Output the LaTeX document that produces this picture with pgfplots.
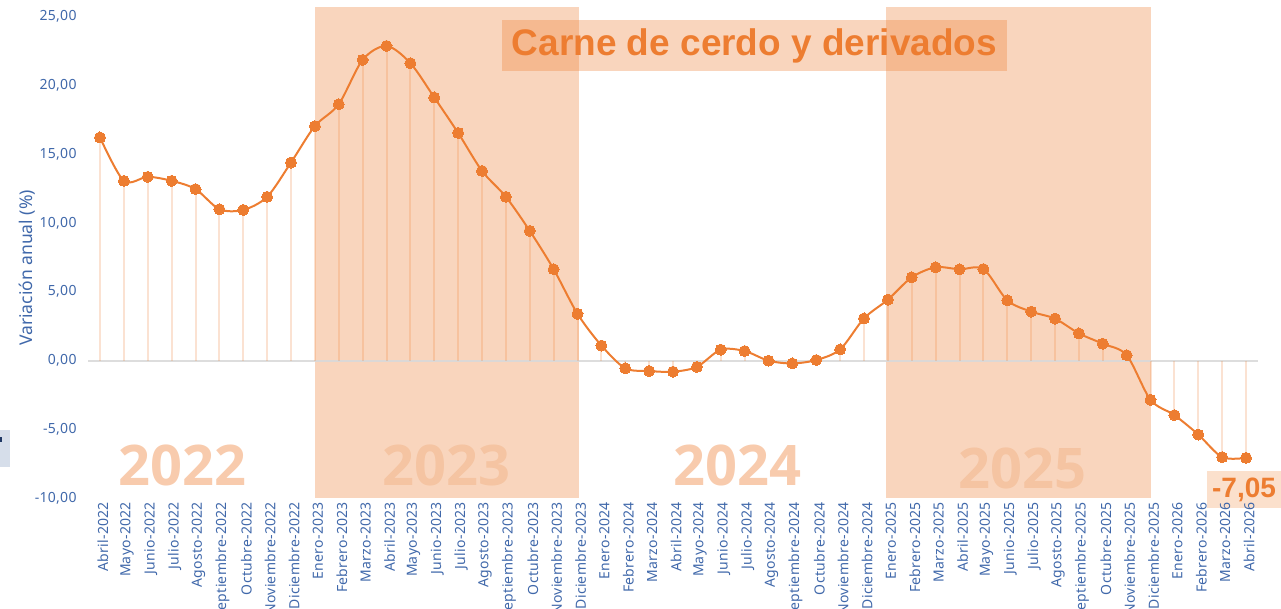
\documentclass[border=0pt]{standalone}
\usepackage{pgfplots}
\pgfplotsset{compat=1.18}
\usepackage{fontspec}
\setmainfont{Noto Sans}[LetterSpace=2]
\newfontfamily\plainfont{Noto Sans}
\newfontfamily\titlefont{Liberation Sans}
\newfontfamily\yearfont{Open Sans}
\definecolor{cOrange}{HTML}{ED7D31}
\definecolor{cTick}{HTML}{4068AA}
\definecolor{cZero}{HTML}{D9D9D9}
\definecolor{cYear}{HTML}{F8CBAD}
\definecolor{cYearBand}{HTML}{F5C4A2}
\definecolor{cLabBox}{HTML}{FBE0CC}
\definecolor{cSide}{HTML}{D6DEEA}
\definecolor{cSideMark}{HTML}{1F3864}
\begin{document}
\begin{tikzpicture}
\useasboundingbox (0,0) rectangle (1281pt,609pt);
\clip (0,0) rectangle (1281pt,609pt);
% last value label box (behind tick labels)
\node[fill=cLabBox, text=cOrange, minimum width=74pt, minimum height=37pt, inner sep=0pt,
      font=\titlefont\bfseries\fontsize{28}{30}\selectfont] at (1244pt,119pt) {-7,05};
\begin{axis}[
  at={(88.06pt,110.5pt)}, anchor=south west,
  scale only axis, width=1169.9pt, height=491.3pt,
  xmin=-0.5, xmax=48.5, ymin=-10, ymax=25.65,
  clip=false,
  axis line style={draw=none},
  major tick length=0pt,
  xtick={0,...,48},
  xticklabels={Abril-2022,Mayo-2022,Junio-2022,Julio-2022,Agosto-2022,Septiembre-2022,Octubre-2022,Noviembre-2022,Diciembre-2022,
  Enero-2023,Febrero-2023,Marzo-2023,Abril-2023,Mayo-2023,Junio-2023,Julio-2023,Agosto-2023,Septiembre-2023,Octubre-2023,Noviembre-2023,Diciembre-2023,
  Enero-2024,Febrero-2024,Marzo-2024,Abril-2024,Mayo-2024,Junio-2024,Julio-2024,Agosto-2024,Septiembre-2024,Octubre-2024,Noviembre-2024,Diciembre-2024,
  Enero-2025,Febrero-2025,Marzo-2025,Abril-2025,Mayo-2025,Junio-2025,Julio-2025,Agosto-2025,Septiembre-2025,Octubre-2025,Noviembre-2025,Diciembre-2025,
  Enero-2026,Febrero-2026,Marzo-2026,Abril-2026},
  xticklabel style={rotate=90, anchor=east, font=\fontsize{14}{16}\selectfont, text=cTick, yshift=-3pt},
  ytick={-10,-5,...,25},
  yticklabel style={font=\fontsize{14}{16}\selectfont, text=cTick, xshift=-8pt},
  /pgf/number format/.cd, fixed, fixed zerofill, precision=2, use comma, 1000 sep={}, assume math mode=true,
]
% bands
\fill[cOrange, opacity=0.32] (axis cs:9.0,-10) rectangle (axis cs:20.06,25.65);
\fill[cOrange, opacity=0.32] (axis cs:32.93,-10) rectangle (axis cs:44.02,25.65);
% zero line
\draw[cZero, opacity=0.9, line width=2pt] (axis cs:-0.5,0) -- (axis cs:48.5,0);
% main smoothed line
\addplot[cOrange, line width=2pt, smooth, mark=*, mark size=5.5pt, mark options={fill=cOrange, draw=cOrange, line width=0pt}] coordinates {
(0,16.20) (1,13.05) (2,13.34) (3,13.05) (4,12.45) (5,10.99) (6,10.94) (7,11.89) (8,14.38)
(9,17.02) (10,18.61) (11,21.83) (12,22.84) (13,21.59) (14,19.10) (15,16.53) (16,13.77) (17,11.89) (18,9.42) (19,6.64) (20,3.40)
(21,1.10) (22,-0.55) (23,-0.75) (24,-0.80) (25,-0.45) (26,0.80) (27,0.70) (28,0.00) (29,-0.20) (30,0.05) (31,0.82) (32,3.07)
(33,4.43) (34,6.05) (35,6.78) (36,6.63) (37,6.65) (38,4.38) (39,3.56) (40,3.05) (41,1.98) (42,1.23) (43,0.40) (44,-2.84)
(45,-3.95) (46,-5.36) (47,-7.00) (48,-7.05)
};
% drop lines
\addplot[ycomb, cOrange, opacity=0.22, line width=2pt, mark=none] coordinates {
(0,16.20) (1,13.05) (2,13.34) (3,13.05) (4,12.45) (5,10.99) (6,10.94) (7,11.89) (8,14.38)
(9,17.02) (10,18.61) (11,21.83) (12,22.84) (13,21.59) (14,19.10) (15,16.53) (16,13.77) (17,11.89) (18,9.42) (19,6.64) (20,3.40)
(21,1.10) (22,-0.55) (23,-0.75) (24,-0.80) (25,-0.45) (26,0.80) (27,0.70) (28,0.00) (29,-0.20) (30,0.05) (31,0.82) (32,3.07)
(33,4.43) (34,6.05) (35,6.78) (36,6.63) (37,6.65) (38,4.38) (39,3.56) (40,3.05) (41,1.98) (42,1.23) (43,0.40) (44,-2.84)
(45,-3.95) (46,-5.36) (47,-7.00) (48,-7.05)
};
\end{axis}
% y label
\node[rotate=90, text=cTick, font=\plainfont\fontsize{17.5}{19}\selectfont] at (27pt,341pt) {Variación anual (\%)};
% year labels
\node[text=cYear, font=\yearfont\bfseries\fontsize{56}{60}\selectfont] at (182pt,144pt) {2022};
\node[text=cYearBand, font=\yearfont\bfseries\fontsize{56}{60}\selectfont] at (446pt,144pt) {2023};
\node[text=cYear, font=\yearfont\bfseries\fontsize{56}{60}\selectfont] at (737pt,144pt) {2024};
\node[text=cYearBand, font=\yearfont\bfseries\fontsize{56}{60}\selectfont] at (1022pt,141pt) {2025};
% title
\node[fill=cOrange, fill opacity=0.32, text opacity=1, text=cOrange, minimum width=505pt, minimum height=51pt, inner sep=0pt,
      font=\titlefont\bfseries\fontsize{37}{40}\selectfont] at (754.5pt,563.5pt) {Carne de cerdo y derivados};
% side artifact
\fill[cSide] (0,142pt) rectangle (10pt,179pt);
\fill[cSideMark] (0,167pt) rectangle (2pt,172pt);
\end{tikzpicture}
\end{document}
